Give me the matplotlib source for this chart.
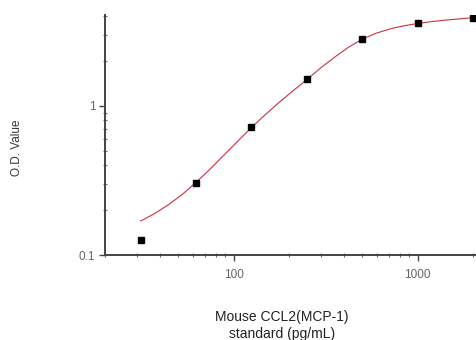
import matplotlib
matplotlib.use("Agg")
import matplotlib.pyplot as plt
from matplotlib.ticker import LogLocator, NullFormatter, FixedLocator, FixedFormatter

plt.rcParams['font.family'] = ['Liberation Sans', 'DejaVu Sans']

# Standards (pg/mL) and measured O.D.
std_conc = [31.25, 62.5, 125, 250, 500, 1000, 2000]
std_od = [0.127, 0.306, 0.72, 1.525, 2.83, 3.59, 3.89]

# Fitted curve
curve_conc = [31.25, 37.2, 44.2, 52.6, 62.5, 74.3, 88.4, 105, 125, 149, 177, 210,
              250, 297, 354, 420, 500, 595, 707, 841, 1000, 1189, 1414, 1682, 2000]
curve_od = [0.169, 0.1895, 0.2172, 0.2547, 0.307, 0.3753, 0.4663, 0.578, 0.717, 0.875,
            1.057, 1.260, 1.50, 1.795, 2.121, 2.469, 2.80, 3.071, 3.281, 3.443, 3.57,
            3.674, 3.758, 3.830, 3.90]

x_ticks = [100, 1000]
x_tick_labels = ["100", "1000"]
y_ticks = [0.1, 1]
y_tick_labels = ["0.1", "1"]

W, H = 476, 340
fig = plt.figure(figsize=(W / 100, H / 100), dpi=100)
left, right, bottom, top = 105, 476, 255, 14.5
ax = fig.add_axes([left / W, 1 - bottom / H, (right - left) / W, (bottom - top) / H])

ax.plot(curve_conc, curve_od, color='#c8323f', lw=0.8, zorder=2)
ax.plot(std_conc, std_od, linestyle='none', marker='s', markersize=4.6,
        color='black', zorder=3)

ax.set_xscale('log')
ax.set_yscale('log')
ax.set_xlim(20, 2076)
ax.set_ylim(0.1, 4.1)

for s in ['top', 'right']:
    ax.spines[s].set_visible(False)
for s in ['left', 'bottom']:
    ax.spines[s].set_color('#444444')
    ax.spines[s].set_linewidth(1.4)

ax.xaxis.set_major_locator(FixedLocator(x_ticks))
ax.xaxis.set_major_formatter(FixedFormatter(x_tick_labels))
ax.yaxis.set_major_locator(FixedLocator(y_ticks))
ax.yaxis.set_major_formatter(FixedFormatter(y_tick_labels))
ax.xaxis.set_minor_locator(LogLocator(base=10, subs=range(2, 10)))
ax.yaxis.set_minor_locator(LogLocator(base=10, subs=range(2, 10)))
ax.xaxis.set_minor_formatter(NullFormatter())
ax.yaxis.set_minor_formatter(NullFormatter())

ax.tick_params(which='major', direction='out', length=4, width=1.0, color='#444444',
               labelsize=8.5, labelcolor='#666666')
ax.tick_params(axis='x', which='major', pad=6)
ax.tick_params(axis='y', which='major', pad=3)
ax.tick_params(which='minor', direction='inout', length=3, width=0.8, color='#666666')

fig.text(17 / W, 1 - 147.5 / H, "O.D. Value", rotation=90, ha='center', va='center',
         fontsize=8.5, color='#333333')
fig.text(282 / W, 1 - 317 / H, "Mouse CCL2(MCP-1)", ha='center', va='center',
         fontsize=10, color='#222222')
fig.text(282 / W, 1 - 334 / H, "standard (pg/mL)", ha='center', va='center',
         fontsize=10, color='#222222')

fig.savefig("out.png", dpi=100)
